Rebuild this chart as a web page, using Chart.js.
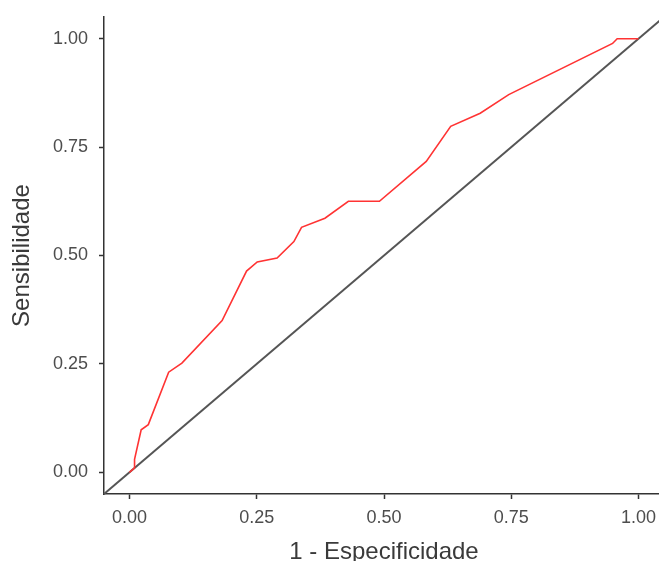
<!DOCTYPE html>
<html>
<head>
<meta charset="utf-8">
<script src="https://cdn.jsdelivr.net/npm/chart.js@4"></script>
<style>
  html, body { margin: 0; padding: 0; background: #fff; overflow: hidden; }
  #wrap { position: absolute; left: 0; top: 0; }
</style>
</head>
<body>
<div id="wrap"><canvas id="rocChart" width="666" height="580"></canvas></div>
<script>
// ROC curve points
const fpr = [0, 0.01, 0.01, 0.023, 0.037, 0.077, 0.103, 0.182, 0.230, 0.251, 0.290, 0.323, 0.338, 0.384, 0.430, 0.491, 0.583, 0.631, 0.689, 0.745, 0.949, 0.958, 1.0];
const tpr = [0, 0.01, 0.03, 0.098, 0.110, 0.231, 0.252, 0.350, 0.464, 0.485, 0.494, 0.532, 0.565, 0.586, 0.625, 0.625, 0.717, 0.798, 0.828, 0.871, 0.989, 1.0, 1.0];

// reference diagonal, drawn over the whole panel
const diagX = [-0.05, 1.05];
const diagY = [-0.05, 1.05];

const xTicks = [0, 0.25, 0.5, 0.75, 1];
const yTicks = [0, 0.25, 0.5, 0.75, 1];

const xTitle = '1 - Especificidade';
const yTitle = 'Sensibilidade';

const tickFont = { family: 'Liberation Sans, Arial, sans-serif', size: 18 };
const titleFont = { family: 'Liberation Sans, Arial, sans-serif', size: 24 };

function toPoints(xs, ys) {
    return xs.map((x, i) => ({ x: x, y: ys[i] }));
}

new Chart(document.getElementById('rocChart'), {
    type: 'scatter',
    data: {
        datasets: [{
            // first dataset is painted on top
            label: 'ROC',
            data: toPoints(fpr, tpr),
            showLine: true,
            borderColor: '#ff3333',
            borderWidth: 1.6,
            pointRadius: 0,
            fill: false,
            tension: 0
        }, {
            label: 'diagonal',
            data: toPoints(diagX, diagY),
            showLine: true,
            borderColor: '#555555',
            borderWidth: 2,
            pointRadius: 0,
            fill: false
        }]
    },
    options: {
        responsive: false,
        animation: false,
        clip: false,
        layout: { padding: { top: 17, right: 2, bottom: 0, left: 0 } },
        plugins: {
            legend: { display: false },
            tooltip: { enabled: false }
        },
        scales: {
            x: {
                type: 'linear',
                min: -0.05,
                max: 1.05,
                afterBuildTicks: scale => { scale.ticks = xTicks.map(v => ({ value: v })); },
                afterFit: scale => {
                    scale.height = 86;
                    scale.paddingLeft = 0;
                    scale.paddingRight = 0;
                },
                border: { display: true, color: '#333333', width: 1.5 },
                grid: { drawOnChartArea: false, drawTicks: true, tickLength: 5, tickColor: '#333333', tickWidth: 1.5 },
                ticks: {
                    color: '#4d4d4d',
                    font: tickFont,
                    padding: 8,
                    maxRotation: 0,
                    callback: v => Number(v).toFixed(2)
                },
                title: {
                    display: true,
                    text: xTitle,
                    color: '#3a3a3a',
                    font: titleFont,
                    padding: { top: 0, bottom: 13 }
                }
            },
            y: {
                type: 'linear',
                min: -0.05,
                max: 1.05,
                afterBuildTicks: scale => { scale.ticks = yTicks.map(v => ({ value: v })); },
                afterFit: scale => {
                    scale.width = 104;
                    scale.paddingTop = 0;
                    scale.paddingBottom = 0;
                },
                border: { display: true, color: '#333333', width: 1.5 },
                grid: { drawOnChartArea: false, drawTicks: true, tickLength: 5, tickColor: '#333333', tickWidth: 1.5 },
                ticks: {
                    color: '#4d4d4d',
                    font: tickFont,
                    padding: 11,
                    callback: v => Number(v).toFixed(2)
                },
                title: {
                    display: true,
                    text: yTitle,
                    color: '#3a3a3a',
                    font: titleFont,
                    padding: { top: 8, bottom: 0 }
                }
            }
        }
    }
});
</script>
</body>
</html>
